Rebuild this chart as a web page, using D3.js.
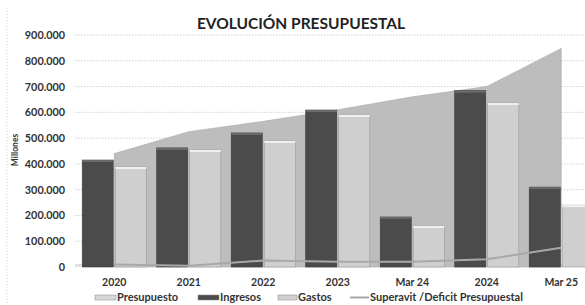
<!DOCTYPE html>
<html><head><meta charset="utf-8">
<script src="https://cdn.jsdelivr.net/npm/d3@7/dist/d3.min.js"></script>
<style>body{margin:0;background:#fff;}svg{display:block;font-family:Lato,"Open Sans",sans-serif;}</style>
</head><body>
<svg id="c" width="585" height="305"></svg>
<script>
const categories = ["2020","2021","2022","2023","Mar 24","2024","Mar 25"];
const presupuesto = [440000, 525000, 565000, 610000, 660000, 700000, 848000];
const ingresos   = [415000, 462000, 520000, 609000, 194000, 684000, 310000];
const gastos     = [388000, 454000, 489000, 590000, 159000, 636000, 240000];
const superavit  = [10000, 5000, 25000, 20000, 20000, 30000, 75000];
const yTicks = [0,100000,200000,300000,400000,500000,600000,700000,800000,900000];
const seriesNames = ["Ingresos","Gastos"];

const svg = d3.select("#c");
const x = d3.scaleBand().domain(categories).range([77, 598.5]).paddingInner(0.14).paddingOuter(0.07);
const xc = d => x(d) + x.bandwidth()/2;
const xs = d3.scaleBand().domain(seriesNames).range([0, x.bandwidth()]).paddingInner(0.06);
const y = d3.scaleLinear().domain([0, 900000]).range([267, 35]);
const fmt = v => v === 0 ? "0" : d3.format(",")(v).replace(/,/g, ".");

// left frame
svg.append("line").attr("x1",7).attr("x2",7).attr("y1",8).attr("y2",305)
  .attr("stroke","#ccc").attr("stroke-dasharray","1,2");

// gridlines
svg.append("g").selectAll("line").data(yTicks.slice(1)).join("line")
  .attr("x1",75).attr("x2",585).attr("y1",d=>y(d)).attr("y2",d=>y(d))
  .attr("stroke","#c4c4c4").attr("stroke-width",0.8).attr("stroke-dasharray","1.5,1.5");

// y axis labels
const yAxis = d3.axisLeft(y).tickValues(yTicks).tickFormat(fmt).tickSize(0).tickPadding(0);
const ga = svg.append("g").attr("transform","translate(65,0)").call(yAxis);
ga.select(".domain").remove();
ga.selectAll("text").attr("font-size","10.8px").attr("font-weight","bold").attr("fill","#333")
  .attr("font-family","Lato,sans-serif");

// Millones
svg.append("text").attr("transform","translate(18,150) rotate(-90)").attr("text-anchor","middle")
  .attr("font-size","8.5px").attr("font-weight","bold").attr("fill","#333").text("Millones");

// floor
svg.append("rect").attr("x",75).attr("y",y(0)-3).attr("width",510).attr("height",3).attr("fill","#e0e0e0");

// presupuesto area
const area = d3.area().x((d,i)=>xc(categories[i])).y0(y(0)).y1(d=>y(d)).curve(d3.curveLinear);
svg.append("path").datum(presupuesto).attr("d",area).attr("fill","#bdbdbd").attr("stroke","#aaa").attr("stroke-width",0.6);

// bars
const groups = svg.append("g").selectAll("g").data(categories).join("g")
  .attr("transform",d=>`translate(${x(d)},0)`);
groups.append("rect").attr("x",xs("Ingresos")).attr("width",xs.bandwidth())
  .attr("y",(d,i)=>y(ingresos[i])).attr("height",(d,i)=>y(0)-y(ingresos[i]))
  .attr("fill","#4b4b4b").attr("stroke","#3a3a3a").attr("stroke-width",0.6);
groups.append("rect").attr("x",xs("Ingresos")).attr("width",xs.bandwidth())
  .attr("y",(d,i)=>y(ingresos[i])).attr("height",2).attr("fill","#6a6a6a");
groups.append("rect").attr("x",xs("Gastos")).attr("width",xs.bandwidth())
  .attr("y",(d,i)=>y(gastos[i])).attr("height",(d,i)=>y(0)-y(gastos[i]))
  .attr("fill","#cfcfcf").attr("stroke","#9a9a9a").attr("stroke-width",0.6);
groups.append("rect").attr("x",xs("Gastos")).attr("width",xs.bandwidth())
  .attr("y",(d,i)=>y(gastos[i])).attr("height",2).attr("fill","#f0f0f0");

// superavit line
const line = d3.line().x((d,i)=>xc(categories[i])).y(d=>y(d));
svg.append("path").datum(superavit).attr("d",line).attr("fill","none").attr("stroke","#a8a8a8").attr("stroke-width",2);

// x axis labels
const xAxis = d3.axisBottom(x).tickSize(0).tickPadding(0);
const gx = svg.append("g").attr("transform","translate(0,279)").call(xAxis);
gx.select(".domain").remove();
gx.selectAll("text").attr("font-size","10.5px").attr("font-weight","bold").attr("fill","#333")
  .attr("font-family","Lato,sans-serif");

// title
svg.append("text").attr("x",301).attr("y",29).attr("text-anchor","middle")
  .attr("font-size","15.5px").attr("font-weight","bold").attr("fill","#222").text("EVOLUCIÓN PRESUPUESTAL");

// legend
const legend = [
  {name:"Presupuesto", type:"rect", fill:"#d8d8d8", sx:95, tx:117},
  {name:"Ingresos", type:"rect", fill:"#4b4b4b", sx:198, tx:220},
  {name:"Gastos", type:"rect", fill:"#cfcfcf", sx:278, tx:298},
  {name:"Superavit /Deficit Presupuestal", type:"line", fill:"#a8a8a8", sx:350, tx:370}
];
const lg = svg.append("g").selectAll("g").data(legend).join("g");
lg.each(function(d){
  const g = d3.select(this);
  if(d.type==="rect") g.append("rect").attr("x",d.sx).attr("y",295).attr("width",d.tx-d.sx-1).attr("height",5).attr("fill",d.fill).attr("stroke","#888").attr("stroke-width",0.5);
  else g.append("line").attr("x1",d.sx).attr("x2",d.tx-1).attr("y1",297.5).attr("y2",297.5).attr("stroke",d.fill).attr("stroke-width",2);
  g.append("text").attr("x",d.tx).attr("y",301).attr("font-size","11px").attr("font-weight","bold").attr("fill","#333").text(d.name);
});
</script>
</body></html>
